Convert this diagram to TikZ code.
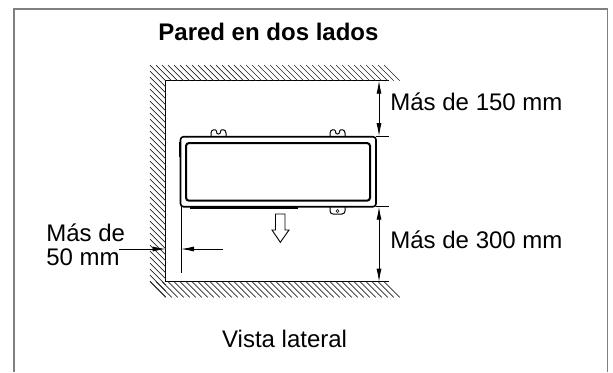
\documentclass[tikz,border=0pt]{standalone}
\usepackage{fontspec}
\setmainfont{Liberation Sans}
\tikzset{
  label/.style={anchor=base west,inner sep=0pt,font=\fontsize{12}{12}\selectfont},
  wall/.style={line width=.55pt},
  hatch/.style={line width=.35pt,black!85},
  dimline/.style={line width=.4pt,{Latex[length=6.5pt,width=2.5pt]}-{Latex[length=6.5pt,width=2.5pt]}},
  extline/.style={line width=.4pt},
}
\usetikzlibrary{arrows.meta}
\begin{document}
\begin{tikzpicture}[x=.5pt,y=-.5pt]
    \useasboundingbox (0,0) rectangle (613,372);
    % frame, open at the bottom
    \draw[gray,line width=.9pt] (14,372) -- (14,9) -- (607.5,9) -- (607.5,372);
    % walls
    \coordinate (TR) at (389,80.7);
    \coordinate (TL) at (165.7,80.7);
    \coordinate (BL) at (165.7,281.7);
    \coordinate (BR) at (389,281.7);
    \draw[wall] (TR) -- (TL) -- (BL) -- (BR);
    \foreach \k in {0,...,39}{\draw[hatch] (150+6*\k,65) -- +(15.7,15.7);};
    \foreach \k in {1,...,36}{\draw[hatch] (150,65+6*\k) -- +(15.7,15.7);};
    \foreach \k in {0,...,39}{\draw[hatch] (150+6*\k,281.7) -- +(15.7,15.7);};
    % unit
    \draw[line width=.8pt,rounded corners=1.5pt] (180.5,136.7) rectangle (376,206.7);
    \draw[line width=1pt,rounded corners=1.5pt] (186,143) rectangle (370,200.7);
    \draw[line width=.9pt] (179.5,142) -- (179.5,157);
    \draw[line width=.6pt] (190,208) -- (298,208);
    \draw[line width=.5pt] (322,136) -- (358,136);
    % clips
    \foreach \cx in {211,330}{
      \draw[line width=.5pt] (\cx,136) -- (\cx,133) .. controls (\cx,129) and (\cx+5,129) .. (\cx+5.5,131) -- (\cx+5.5,132) arc (180:0:2) -- (\cx+9.5,131) .. controls (\cx+10,129) and (\cx+15,129) .. (\cx+15,133) -- (\cx+15,136);};
    \draw[line width=.5pt,rounded corners=1.5pt] (330,207) -- (330,214) -- (345,214) -- (345,207);
    \draw[line width=.3pt] (337.5,211) circle (1.5);
    % dimensions
    \coordinate (U1) at (376,136.2);
    \coordinate (U2) at (389,136.2);
    \coordinate (L1) at (376,206.7);
    \coordinate (L2) at (389,206.7);
    \draw[extline] (U1) -- (U2);
    \draw[extline] (L1) -- (L2);
    \coordinate (A1) at (379,80.7);
    \coordinate (A2) at (379,136.2);
    \coordinate (A3) at (379,206.7);
    \coordinate (A4) at (379,281.7);
    \draw[dimline] (A1) -- (A2);
    \draw[dimline] (A3) -- (A4);
    % side gap
    \coordinate (G1) at (181,206.7);
    \coordinate (G2) at (181,273.3);
    \draw[extline] (G1) -- (G2);
    \coordinate (W0) at (119,249);
    \coordinate (W1) at (165.7,249);
    \coordinate (W2) at (181,249);
    \coordinate (W3) at (223,249);
    \draw[extline,-{Latex[length=6.5pt,width=2.5pt]}] (W0) -- (W1);
    \draw[extline,-{Latex[length=6.5pt,width=2.5pt]}] (W3) -- (W2);
    % outlet
    \draw[line width=.45pt] (275.5,214) -- (285,214) -- (285,230) -- (289,230) -- (280.3,242.3) -- (272,230) -- (275.5,230) -- cycle;
    % texts
    \node[label,font=\bfseries\fontsize{12}{12}\selectfont] (title) at (158,40) {Pared en dos lados};
    \node[label] (upper) at (390,110) {Más de 150 mm};
    \node[label] (lower) at (390,248) {Más de 300 mm};
    \node[label] (gapa) at (46,241) {Más de};
    \node[label] (gapb) at (46,265) {50 mm};
    \node[label] (view) at (221.7,347) {Vista lateral};
\end{tikzpicture}
\end{document}
